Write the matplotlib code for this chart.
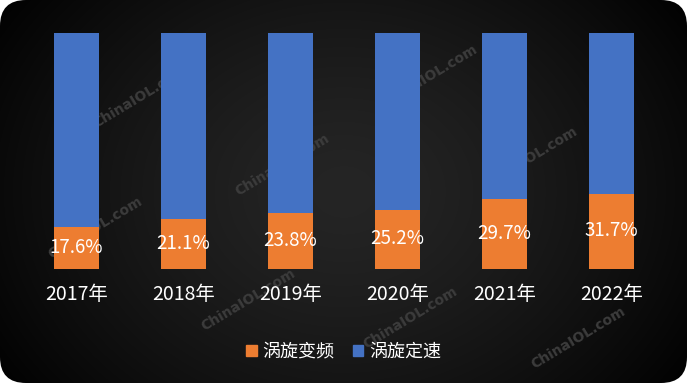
import numpy as np
import matplotlib.pyplot as plt
import matplotlib.patches as mpatches
from matplotlib.patches import FancyBboxPatch

plt.rcParams['font.family'] = ['Noto Sans CJK SC', 'DejaVu Sans']
plt.rcParams['font.weight'] = 'light'

years = ['2017年', '2018年', '2019年', '2020年', '2021年', '2022年']
variable_speed = [17.6, 21.1, 23.8, 25.2, 29.7, 31.7]   # 涡旋变频 (%)
fixed_speed = [100 - v for v in variable_speed]          # 涡旋定速 (%)
series_names = ['涡旋变频', '涡旋定速']

ORANGE = '#ED7D31'
BLUE = '#4472C4'

W, H = 687, 383
fig = plt.figure(figsize=(W / 100, H / 100), dpi=100)
fig.patch.set_facecolor('white')

# dark rounded background with radial gradient
bg = fig.add_axes([0, 0, 1, 1], zorder=-10)
bg.set_xlim(0, W)
bg.set_ylim(H, 0)
bg.axis('off')
yy, xx = np.mgrid[0:H, 0:W]
r = np.sqrt(((xx - W * 0.5) / (W * 0.62)) ** 2 + ((yy - H * 0.5) / (H * 0.9)) ** 2)
shade = np.clip(0.145 * (1 - r ** 1.4), 0, 1)
img = np.dstack([shade, shade, shade])
im = bg.imshow(img, extent=(0, W, H, 0), interpolation='bilinear')
box = FancyBboxPatch((0, 0), W, H, boxstyle='round,pad=0,rounding_size=26',
                     facecolor='none', edgecolor='none', transform=bg.transData)
bg.add_patch(box)
im.set_clip_path(box)

# watermarks
marks = [(140, 97), (282, 165), (430, 76), (530, 158), (95, 228), (248, 300),
         (410, 318), (578, 338)]
for mx, my in marks:
    bg.text(mx, my, 'ChinaIOL.com', color='#3c3c3c', fontsize=10, fontweight='bold',
            family='DejaVu Sans', rotation=31, ha='center', va='center')

ax = fig.add_axes([23 / W, 1 - 269 / H, (665 - 23) / W, (269 - 33) / H])
ax.patch.set_alpha(0)
x = np.arange(len(years))
ax.bar(x, variable_speed, width=0.42, color=ORANGE, label=series_names[0], zorder=3)
ax.bar(x, fixed_speed, width=0.42, bottom=variable_speed, color=BLUE,
       label=series_names[1], zorder=3)

for xi, v in zip(x, variable_speed):
    ax.text(xi, v / 2 + 0.3, f'{v:.1f}%', color='white', fontsize=13.5,
            ha='center', va='center', zorder=4)

ax.set_xlim(-0.5, len(years) - 0.5)
ax.set_ylim(0, 100)
ax.set_xticks(x)
ax.set_xticklabels(years, color='white', fontsize=14)
ax.tick_params(axis='x', length=0, pad=11)
ax.set_yticks([])
for s in ax.spines.values():
    s.set_visible(False)

handles = [mpatches.Patch(color=ORANGE, label=series_names[0]),
           mpatches.Patch(color=BLUE, label=series_names[1])]
leg = fig.legend(handles=handles, loc='center', bbox_to_anchor=(0.5, 1 - 352 / H),
                 ncol=2, frameon=False, fontsize=13, handlelength=0.6,
                 handleheight=0.6, handletextpad=0.3, columnspacing=1.0)
for t in leg.get_texts():
    t.set_color('white')

fig.savefig('out.png', dpi=100)
